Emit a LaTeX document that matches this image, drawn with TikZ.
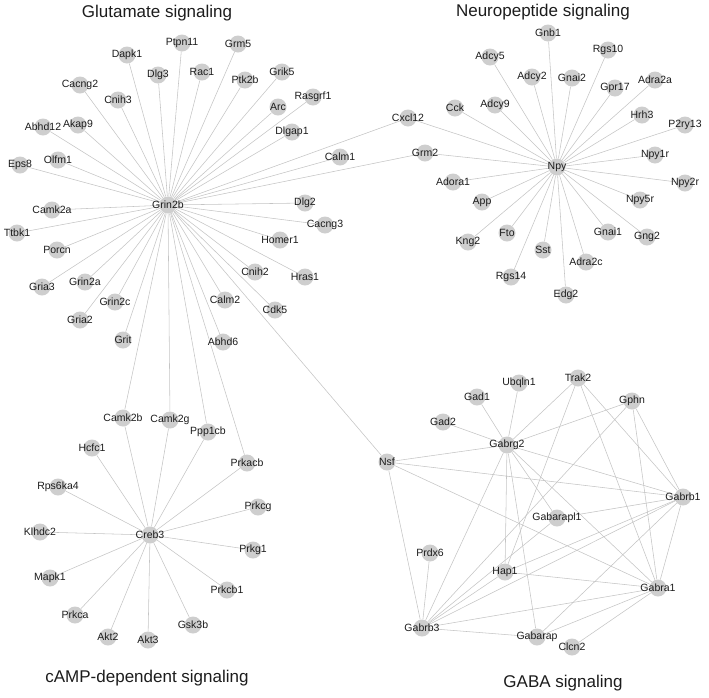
\documentclass[tikz,border=0pt]{standalone}
\usepackage{fontspec}
\setmainfont{Liberation Sans}
\usetikzlibrary{backgrounds}
\definecolor{nodegray}{RGB}{206,206,206}
\definecolor{edgegray}{RGB}{196,196,196}
\definecolor{labcol}{RGB}{28,28,28}
\newcommand\gnd[4]{\node[gn,label={[lab]center:#4}] (#1) at (#2,#3) {};}
\begin{document}
\begin{tikzpicture}[x=1pt,y=-1pt,
  gn/.style={circle,fill=nodegray,minimum size=17pt,inner sep=0pt},
  lab/.style={font=\fontsize{10.5}{12}\selectfont,text=labcol,inner sep=0pt},
  ttl/.style={font=\fontsize{17}{20}\selectfont,text=labcol,inner sep=0pt},
  ed/.style={draw=edgegray,line width=0.55pt}]
\useasboundingbox (0,0) rectangle (709,697);
% titles
\node[ttl] (t1) at (157,13) {Glutamate signaling};
\node[ttl] (t2) at (543,12) {Neuropeptide signaling};
\node[ttl] (t3) at (147,678) {cAMP-dependent signaling};
\node[ttl] (t4) at (563,683) {GABA signaling};
% Glutamate
\gnd{Grin2b}{168}{205}{Grin2b}
\gnd{Ptpn11}{182}{43}{Ptpn11}
\gnd{Grm5}{238}{44}{Grm5}
\gnd{Dapk1}{127}{55}{Dapk1}
\gnd{Dlg3}{158}{75}{Dlg3}
\gnd{Rac1}{202}{72}{Rac1}
\gnd{Ptk2b}{245}{80}{Ptk2b}
\gnd{Grik5}{282}{72}{Grik5}
\gnd{Cacng2}{80}{85}{Cacng2}
\gnd{Cnih3}{118}{100}{Cnih3}
\gnd{Rasgrf1}{313}{97}{Rasgrf1}
\gnd{Arc}{278}{107}{Arc}
\gnd{Abhd12}{43}{127}{Abhd12}
\gnd{Akap9}{78}{125}{Akap9}
\gnd{Dlgap1}{292}{132}{Dlgap1}
\gnd{Eps8}{20}{165}{Eps8}
\gnd{Olfm1}{58}{160}{Olfm1}
\gnd{Calm1}{340}{157}{Calm1}
\gnd{Camk2a}{52}{210}{Camk2a}
\gnd{Dlg2}{305}{203}{Dlg2}
\gnd{Cacng3}{325}{225}{Cacng3}
\gnd{Ttbk1}{17}{233}{Ttbk1}
\gnd{Porcn}{57}{250}{Porcn}
\gnd{Homer1}{280}{240}{Homer1}
\gnd{Cnih2}{255}{272}{Cnih2}
\gnd{Hras1}{305}{277}{Hras1}
\gnd{Gria3}{42}{287}{Gria3}
\gnd{Grin2a}{85}{282}{Grin2a}
\gnd{Grin2c}{115}{302}{Grin2c}
\gnd{Calm2}{225}{300}{Calm2}
\gnd{Cdk5}{275}{310}{Cdk5}
\gnd{Gria2}{80}{320}{Gria2}
\gnd{Grit}{123}{340}{Grit}
\gnd{Abhd6}{223}{342}{Abhd6}
% cAMP
\gnd{Camk2b}{123}{418}{Camk2b}
\gnd{Camk2g}{170}{420}{Camk2g}
\gnd{Ppp1cb}{208}{432}{Ppp1cb}
\gnd{Hcfc1}{92}{448}{Hcfc1}
\gnd{Prkacb}{247}{463}{Prkacb}
\gnd{Rps6ka4}{58}{487}{Rps6ka4}
\gnd{Prkcg}{258}{507}{Prkcg}
\gnd{Klhdc2}{40}{532}{Klhdc2}
\gnd{Creb3}{150}{535}{Creb3}
\gnd{Prkg1}{253}{550}{Prkg1}
\gnd{Mapk1}{50}{578}{Mapk1}
\gnd{Prkcb1}{227}{590}{Prkcb1}
\gnd{Prkca}{75}{615}{Prkca}
\gnd{Gsk3b}{193}{625}{Gsk3b}
\gnd{Akt2}{108}{637}{Akt2}
\gnd{Akt3}{148}{640}{Akt3}
% Neuropeptide
\gnd{Npy}{557}{167}{Npy}
\gnd{Gnb1}{548}{33}{Gnb1}
\gnd{Adcy5}{490}{57}{Adcy5}
\gnd{Rgs10}{608}{50}{Rgs10}
\gnd{Adcy2}{532}{77}{Adcy2}
\gnd{Gnai2}{572}{78}{Gnai2}
\gnd{Gpr17}{615}{88}{Gpr17}
\gnd{Adra2a}{655}{80}{Adra2a}
\gnd{Cck}{455}{108}{Cck}
\gnd{Adcy9}{495}{105}{Adcy9}
\gnd{Cxcl12}{408}{118}{Cxcl12}
\gnd{Hrh3}{642}{115}{Hrh3}
\gnd{P2ry13}{685}{125}{P2ry13}
\gnd{Grm2}{425}{153}{Grm2}
\gnd{Npy1r}{655}{155}{Npy1r}
\gnd{Npy2r}{685}{183}{Npy2r}
\gnd{Adora1}{453}{182}{Adora1}
\gnd{Npy5r}{640}{200}{Npy5r}
\gnd{App}{482}{202}{App}
\gnd{Kng2}{468}{242}{Kng2}
\gnd{Fto}{507}{233}{Fto}
\gnd{Gnai1}{608}{232}{Gnai1}
\gnd{Gng2}{647}{237}{Gng2}
\gnd{Sst}{543}{250}{Sst}
\gnd{Adra2c}{586}{262}{Adra2c}
\gnd{Rgs14}{511}{277}{Rgs14}
\gnd{Edg2}{566}{295}{Edg2}
% GABA
\gnd{Trak2}{578}{378}{Trak2}
\gnd{Ubqln1}{519}{383}{Ubqln1}
\gnd{Gad1}{477}{397}{Gad1}
\gnd{Gphn}{632}{401}{Gphn}
\gnd{Gad2}{443}{422}{Gad2}
\gnd{Gabrg2}{507}{445}{Gabrg2}
\gnd{Nsf}{387}{462}{Nsf}
\gnd{Gabrb1}{683}{497}{Gabrb1}
\gnd{Gabarapl1}{557}{518}{Gabarapl1}
\gnd{Prdx6}{430}{553}{Prdx6}
\gnd{Hap1}{505}{572}{Hap1}
\gnd{Gabra1}{658}{588}{Gabra1}
\gnd{Gabrb3}{422}{628}{Gabrb3}
\gnd{Gabarap}{537}{637}{Gabarap}
\gnd{Clcn2}{572}{647}{Clcn2}
% edges
\begin{scope}[on background layer]
\foreach \t in {Ptpn11,Grm5,Dapk1,Dlg3,Rac1,Ptk2b,Grik5,Cacng2,Cnih3,Rasgrf1,Arc,Abhd12,Akap9,Dlgap1,Eps8,Olfm1,Calm1,Camk2a,Dlg2,Cacng3,Ttbk1,Porcn,Homer1,Cnih2,Hras1,Gria3,Grin2a,Grin2c,Calm2,Cdk5,Gria2,Grit,Abhd6,Cxcl12,Grm2,Camk2b,Camk2g,Ppp1cb,Prkacb,Nsf}
  \draw[ed] (Grin2b) -- (\t);
\foreach \t in {Camk2b,Camk2g,Ppp1cb,Hcfc1,Prkacb,Rps6ka4,Prkcg,Klhdc2,Prkg1,Mapk1,Prkcb1,Prkca,Gsk3b,Akt2,Akt3}
  \draw[ed] (Creb3) -- (\t);
\foreach \t in {Gnb1,Adcy5,Rgs10,Adcy2,Gnai2,Gpr17,Adra2a,Cck,Adcy9,Cxcl12,Hrh3,P2ry13,Grm2,Npy1r,Npy2r,Adora1,Npy5r,App,Kng2,Fto,Gnai1,Gng2,Sst,Adra2c,Rgs14,Edg2}
  \draw[ed] (Npy) -- (\t);
\foreach \t in {Gad1,Gad2,Ubqln1,Trak2,Gphn,Nsf,Gabrb1,Gabarapl1,Gabra1,Gabarap,Hap1,Gabrb3}
  \draw[ed] (Gabrg2) -- (\t);
\foreach \t in {Gabrb1,Gabra1,Gabrb3}
  \draw[ed] (Nsf) -- (\t);
\foreach \t in {Gabrb1,Gabra1,Hap1}
  \draw[ed] (Trak2) -- (\t);
\foreach \t in {Gabrb1,Gabra1,Gabrb3}
  \draw[ed] (Gphn) -- (\t);
\foreach \t in {Gabarapl1,Hap1,Gabrb3,Gabarap,Gabra1}
  \draw[ed] (Gabrb1) -- (\t);
\foreach \t in {Hap1,Gabrb3,Gabarap,Clcn2}
  \draw[ed] (Gabra1) -- (\t);
\foreach \t in {Prdx6,Gabarapl1,Hap1,Gabarap}
  \draw[ed] (Gabrb3) -- (\t);
\end{scope}
\end{tikzpicture}
\end{document}
